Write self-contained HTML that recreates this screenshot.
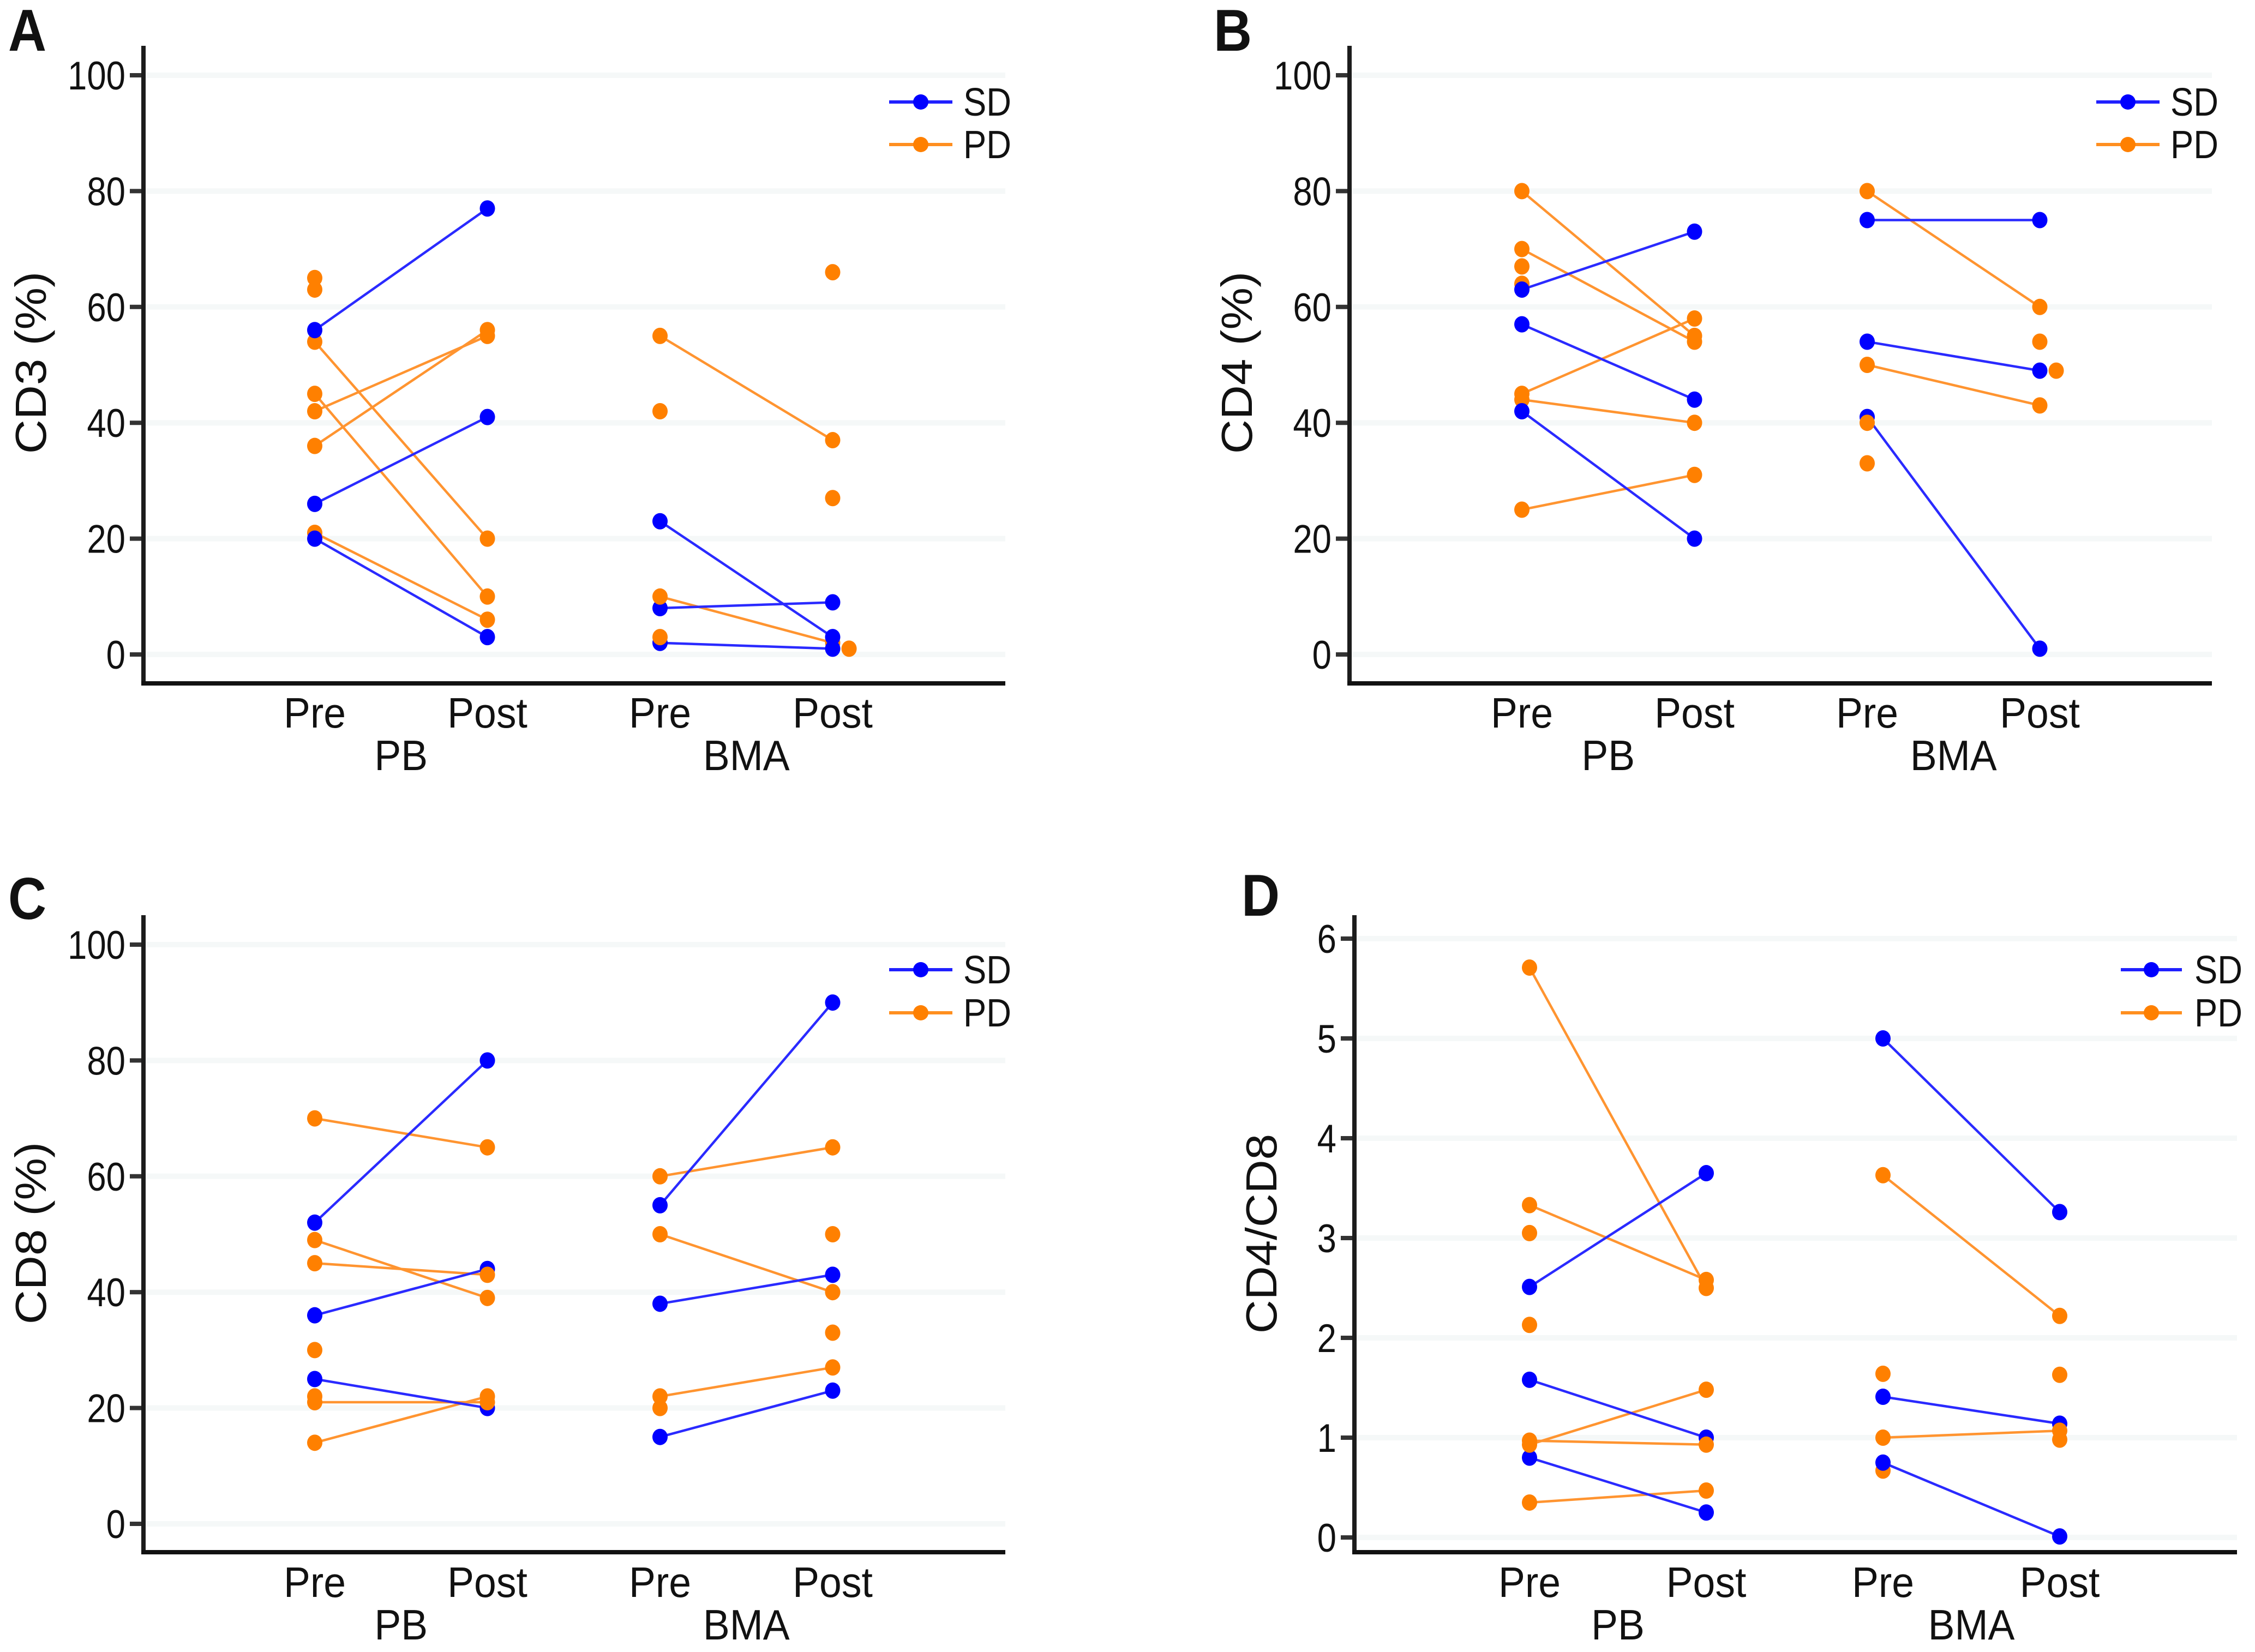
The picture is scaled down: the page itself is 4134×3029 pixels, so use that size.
<!DOCTYPE html>
<html lang="en">
<head>
<meta charset="utf-8">
<title>CD3, CD4, CD8 and CD4/CD8 before and after treatment</title>
<style>
  html, body { margin: 0; padding: 0; background: #fff; }
  svg { display: block; }
  text { font-family: "Liberation Sans", sans-serif; fill: #111111; }
</style>
</head>
<body>
<svg id="figure" xmlns="http://www.w3.org/2000/svg" width="4134" height="3029" viewBox="0 0 4134 3029">
  <rect x="0" y="0" width="4134" height="3029" fill="#ffffff"/>

  <g id="panel-a"></g>
  <g id="panel-b"></g>
  <g id="panel-c"></g>
  <g id="panel-d"></g>

  <g font-weight="700" font-size="109" style="fill:#000">
    <text transform="translate(15,93) scale(0.89,1)">A</text>
    <text transform="translate(2225,93) scale(0.89,1)">B</text>
    <text transform="translate(15,1685) scale(0.89,1)">C</text>
    <text transform="translate(2276,1679) scale(0.89,1)">D</text>
  </g>

  <g font-size="80" text-anchor="middle">
    <text transform="translate(84,665) rotate(-90) scale(1.09,1)">CD3 (%)</text>
    <text transform="translate(2295,665) rotate(-90) scale(1.09,1)">CD4 (%)</text>
    <text transform="translate(84,2261) rotate(-90) scale(1.09,1)">CD8 (%)</text>
    <text transform="translate(2340,2262) rotate(-90) scale(1.07,1)">CD4/CD8</text>
  </g>

  <g font-size="72">
    <g>
      <line x1="1630" x2="1746" y1="187" y2="187" stroke="#2020ff" stroke-width="6"/>
      <circle cx="1688" cy="187" r="14" fill="#0000ff"/>
      <text transform="translate(1766,212) scale(0.88,1)">SD</text>
    </g>
    <g>
      <line x1="1630" x2="1746" y1="265" y2="265" stroke="#ff8f20" stroke-width="6"/>
      <circle cx="1688" cy="265" r="14" fill="#ff8000"/>
      <text transform="translate(1766,290) scale(0.88,1)">PD</text>
    </g>
  </g>
  <g font-size="72">
    <g>
      <line x1="3843" x2="3959" y1="187" y2="187" stroke="#2020ff" stroke-width="6"/>
      <circle cx="3901" cy="187" r="14" fill="#0000ff"/>
      <text transform="translate(3979,212) scale(0.88,1)">SD</text>
    </g>
    <g>
      <line x1="3843" x2="3959" y1="265" y2="265" stroke="#ff8f20" stroke-width="6"/>
      <circle cx="3901" cy="265" r="14" fill="#ff8000"/>
      <text transform="translate(3979,290) scale(0.88,1)">PD</text>
    </g>
  </g>
  <g font-size="72">
    <g>
      <line x1="1630" x2="1746" y1="1778" y2="1778" stroke="#2020ff" stroke-width="6"/>
      <circle cx="1688" cy="1778" r="14" fill="#0000ff"/>
      <text transform="translate(1766,1803) scale(0.88,1)">SD</text>
    </g>
    <g>
      <line x1="1630" x2="1746" y1="1857" y2="1857" stroke="#ff8f20" stroke-width="6"/>
      <circle cx="1688" cy="1857" r="14" fill="#ff8000"/>
      <text transform="translate(1766,1882) scale(0.88,1)">PD</text>
    </g>
  </g>
  <g font-size="72">
    <g>
      <line x1="3888" x2="4000" y1="1778" y2="1778" stroke="#2020ff" stroke-width="6"/>
      <circle cx="3944" cy="1778" r="14" fill="#0000ff"/>
      <text transform="translate(4023,1803) scale(0.88,1)">SD</text>
    </g>
    <g>
      <line x1="3888" x2="4000" y1="1857" y2="1857" stroke="#ff8f20" stroke-width="6"/>
      <circle cx="3944" cy="1857" r="14" fill="#ff8000"/>
      <text transform="translate(4023,1882) scale(0.88,1)">PD</text>
    </g>
  </g>
</svg>

<script>
// Shared axis labels
const timeLabels = ["Pre", "Post", "Pre", "Post"];
const siteLabels = ["PB", "BMA"];
const percentTicks = [0, 20, 40, 60, 80, 100];
const ratioTicks = [0, 1, 2, 3, 4, 5, 6];

// Panel A: CD3 (%) — index-paired values; null means no partner sample
const cd3SdPbPre = [56, 26, 20];
const cd3SdPbPost = [77, 41, 3];
const cd3SdBmaPre = [23, 8, 2];
const cd3SdBmaPost = [3, 9, 1];
const cd3PdPbPre = [54, 45, 42, 36, 21, 65, 63];
const cd3PdPbPost = [20, 10, 55, 56, 6, null, null];
const cd3PdBmaPre = [55, 10, 42, 3];
const cd3PdBmaPost = [37, 2, null, null, 66, 27];
const cd3PdBmaPostDodged = [1];

// Panel B: CD4 (%)
const cd4SdPbPre = [63, 57, 42];
const cd4SdPbPost = [73, 44, 20];
const cd4SdBmaPre = [75, 54, 41];
const cd4SdBmaPost = [75, 49, 1];
const cd4PdPbPre = [80, 70, 45, 44, 25, 67, 64];
const cd4PdPbPost = [55, 54, 58, 40, 31, null, null];
const cd4PdBmaPre = [80, 50, 40, 33];
const cd4PdBmaPost = [60, 43, null, null, 54];
const cd4PdBmaPostDodged = [49];

// Panel C: CD8 (%)
const cd8SdPbPre = [52, 36, 25];
const cd8SdPbPost = [80, 44, 20];
const cd8SdBmaPre = [55, 38, 15];
const cd8SdBmaPost = [90, 43, 23];
const cd8PdPbPre = [70, 49, 45, 21, 14, 30, 22];
const cd8PdPbPost = [65, 39, 43, 21, 22, null, null];
const cd8PdBmaPre = [60, 50, 22, 20];
const cd8PdBmaPost = [65, 40, 27, null, 50, 33];
const cd8PdBmaPostDodged = [];

// Panel D: CD4/CD8 ratio
const ratioSdPbPre = [2.51, 1.58, 0.8];
const ratioSdPbPost = [3.65, 1.0, 0.25];
const ratioSdBmaPre = [5.0, 1.41, 0.75];
const ratioSdBmaPost = [3.26, 1.14, 0.01];
const ratioPdPbPre = [5.71, 3.33, 0.93, 0.97, 0.35, 3.05, 2.13];
const ratioPdPbPost = [2.5, 2.58, 1.48, 0.93, 0.47, null, null];
const ratioPdBmaPre = [3.63, 1.0, 1.64, 0.67];
const ratioPdBmaPost = [2.22, 1.07, null, null, 1.63, 0.98];
const ratioPdBmaPostDodged = [];

const SVG_NS = "http://www.w3.org/2000/svg";
const BLUE = "#0000ff";
const ORANGE = "#ff8000";
const BLUE_LINE = "#2a2aff";
const ORANGE_LINE = "#ff9430";

function make(parent, tag, attrs) {
  const el = document.createElementNS(SVG_NS, tag);
  for (const key in attrs) el.setAttribute(key, attrs[key]);
  parent.appendChild(el);
  return el;
}

function drawPanel(layout, values) {
  const root = document.getElementById(layout.id);
  const xScale = function (i) { return layout.catStart + i * layout.catStep; };
  const yScale = function (v) { return layout.yZero - v * layout.yPerUnit; };
  const dodge = layout.catStep * 0.095;

  // Gridlines and ticks
  values.ticks.forEach(function (t) {
    const grid = make(root, "line", { x1: layout.axisX, x2: layout.axisRight, y1: yScale(t), y2: yScale(t), stroke: "#f5f8f8", "stroke-width": 10 });
    
    
    const tick = make(root, "line", { x1: layout.axisX - 25, x2: layout.axisX, y1: yScale(t), y2: yScale(t), stroke: "#333333", "stroke-width": 8 });
    
    
    const label = make(root, "text", { transform: "translate(" + (layout.axisX - 33) + "," + (yScale(t) + 26) + ") scale(0.87,1)", "text-anchor": "end", "font-size": 73 });
    label.textContent = String(t);
    
    
  });

  // Axis lines
  const yAxis = make(root, "line", { x1: layout.axisX, x2: layout.axisX, y1: layout.yTop, y2: layout.axisY + 4, stroke: "#1c1c1c", "stroke-width": 8 });
  
  
  const xAxis = make(root, "line", { x1: layout.axisX - 4, x2: layout.axisRight, y1: layout.axisY, y2: layout.axisY, stroke: "#111111", "stroke-width": 8 });
  
  

  // Category labels
  timeLabels.forEach(function (name, i) {
    const label = make(root, "text", { transform: "translate(" + xScale(i) + "," + layout.timeBase + ") scale(0.94,1)", "text-anchor": "middle", "font-size": 78 });
    label.textContent = name;
    
    
  });
  siteLabels.forEach(function (name, i) {
    const label = make(root, "text", { transform: "translate(" + xScale(2 * i + 0.5) + "," + (layout.timeBase + 78) + ") scale(0.94,1)", "text-anchor": "middle", "font-size": 78 });
    label.textContent = name;
    
    
  });

  // Paired connecting lines
  function pairLines(preVals, postVals, catIndex, color) {
    preVals.forEach(function (pre, i) {
      const post = postVals[i];
      if (post === null || post === undefined) return;
      const line = make(root, "line", { x1: xScale(catIndex), x2: xScale(catIndex + 1), y1: yScale(pre), y2: yScale(post), stroke: color, "stroke-width": 4.5 });
      
      
    });
  }
  pairLines(values.pdPbPre, values.pdPbPost, 0, ORANGE_LINE);
  pairLines(values.pdBmaPre, values.pdBmaPost, 2, ORANGE_LINE);
  pairLines(values.sdPbPre, values.sdPbPost, 0, BLUE_LINE);
  pairLines(values.sdBmaPre, values.sdBmaPost, 2, BLUE_LINE);

  // Points
  function points(vals, catIndex, color, offset) {
    vals.forEach(function (v) {
      if (v === null || v === undefined) return;
      const dot = make(root, "ellipse", { cx: xScale(catIndex) + offset, cy: yScale(v), rx: 14, ry: 15, fill: color });
      
      
    });
  }
  const sdByCat = [values.sdPbPre, values.sdPbPost, values.sdBmaPre, values.sdBmaPost];
  const pdByCat = [values.pdPbPre, values.pdPbPost, values.pdBmaPre, values.pdBmaPost];
  [0, 1, 2, 3].forEach(function (c) {
    if (values.pdOnTop[c]) {
      points(sdByCat[c], c, BLUE, 0);
      points(pdByCat[c], c, ORANGE, 0);
    } else {
      points(pdByCat[c], c, ORANGE, 0);
      points(sdByCat[c], c, BLUE, 0);
    }
  });
  points(values.pdBmaPostDodged, 3, ORANGE, dodge);
}

drawPanel(
  { id: "panel-a", axisX: 263, axisRight: 1843, yTop: 84, axisY: 1253, yZero: 1200, yPerUnit: 10.62, catStart: 577, catStep: 316.5, timeBase: 1334 },
  { ticks: percentTicks, sdPbPre: cd3SdPbPre, sdPbPost: cd3SdPbPost, sdBmaPre: cd3SdBmaPre, sdBmaPost: cd3SdBmaPost,
    pdPbPre: cd3PdPbPre, pdPbPost: cd3PdPbPost, pdBmaPre: cd3PdBmaPre, pdBmaPost: cd3PdBmaPost,
    pdBmaPostDodged: cd3PdBmaPostDodged, pdOnTop: [false, false, true, false] }
);
drawPanel(
  { id: "panel-b", axisX: 2474, axisRight: 4055, yTop: 84, axisY: 1253, yZero: 1200, yPerUnit: 10.62, catStart: 2790, catStep: 316.5, timeBase: 1334 },
  { ticks: percentTicks, sdPbPre: cd4SdPbPre, sdPbPost: cd4SdPbPost, sdBmaPre: cd4SdBmaPre, sdBmaPost: cd4SdBmaPost,
    pdPbPre: cd4PdPbPre, pdPbPost: cd4PdPbPost, pdBmaPre: cd4PdBmaPre, pdBmaPost: cd4PdBmaPost,
    pdBmaPostDodged: cd4PdBmaPostDodged, pdOnTop: [false, false, true, false] }
);
drawPanel(
  { id: "panel-c", axisX: 263, axisRight: 1843, yTop: 1678, axisY: 2846, yZero: 2794, yPerUnit: 10.62, catStart: 577, catStep: 316.5, timeBase: 2928 },
  { ticks: percentTicks, sdPbPre: cd8SdPbPre, sdPbPost: cd8SdPbPost, sdBmaPre: cd8SdBmaPre, sdBmaPost: cd8SdBmaPost,
    pdPbPre: cd8PdPbPre, pdPbPost: cd8PdPbPost, pdBmaPre: cd8PdBmaPre, pdBmaPost: cd8PdBmaPost,
    pdBmaPostDodged: cd8PdBmaPostDodged, pdOnTop: [false, true, false, false] }
);
drawPanel(
  { id: "panel-d", axisX: 2483, axisRight: 4101, yTop: 1678, axisY: 2846, yZero: 2819, yPerUnit: 183, catStart: 2804, catStep: 324, timeBase: 2928 },
  { ticks: ratioTicks, sdPbPre: ratioSdPbPre, sdPbPost: ratioSdPbPost, sdBmaPre: ratioSdBmaPre, sdBmaPost: ratioSdBmaPost,
    pdPbPre: ratioPdPbPre, pdPbPost: ratioPdPbPost, pdBmaPre: ratioPdBmaPre, pdBmaPost: ratioPdBmaPost,
    pdBmaPostDodged: ratioPdBmaPostDodged, pdOnTop: [true, true, false, true] }
);
</script>
</body>
</html>
